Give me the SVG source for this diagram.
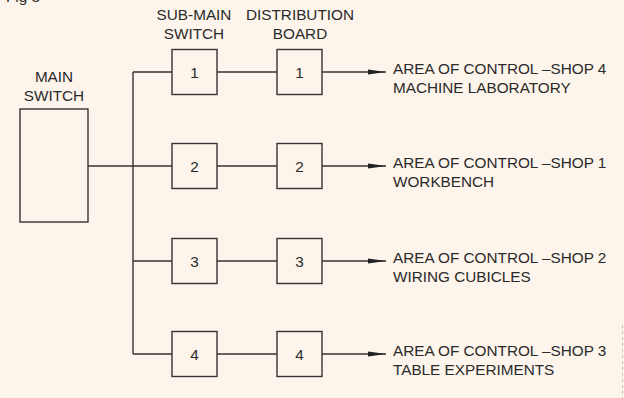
<svg xmlns="http://www.w3.org/2000/svg" width="624" height="398" viewBox="0 0 624 398">
<style>
.bg{fill:#fdf5eb}
.box{fill:none;stroke:#333;stroke-width:1.4}
.ln{fill:none;stroke:#333;stroke-width:1.4}
.t{font-family:"Liberation Sans",Arial,sans-serif;font-size:15.3px;fill:#2a2a2a}
.c{text-anchor:middle}
</style>
<defs>
<marker id="ah" markerUnits="userSpaceOnUse" markerWidth="18" markerHeight="6" refX="18" refY="3" orient="auto">
<path d="M0,0.6 L18,3 L0,5.4 Z" fill="#222"/>
</marker>
</defs>
<rect class="bg" x="0" y="0" width="624" height="398"/>
<text class="t" x="6" y="1.5">Fig 3</text>
<g id="connectors">
<path class="ln" d="M88,166 H172"/>
<path class="ln" d="M133,72 V354"/>
<path class="ln" d="M133,72 H172 M133,261 H172 M133,354 H172"/>
<path class="ln" d="M217,72 H277 M217,166 H277 M217,261 H277 M217,354 H277"/>
<path class="ln" d="M322,72 H386" marker-end="url(#ah)"/>
<path class="ln" d="M322,166 H386" marker-end="url(#ah)"/>
<path class="ln" d="M322,261 H386" marker-end="url(#ah)"/>
<path class="ln" d="M322,354 H386" marker-end="url(#ah)"/>
</g>
<g id="main-switch">
<rect class="box" x="20" y="109" width="68" height="113"/>
<text class="t c" x="54" y="82">MAIN</text>
<text class="t c" x="54" y="101">SWITCH</text>
</g>
<g id="sub-main-header">
<text class="t c" x="194" y="19.5">SUB-MAIN</text>
<text class="t c" x="194" y="38.5">SWITCH</text>
</g>
<g id="distribution-header">
<text class="t c" x="300" y="19.5">DISTRIBUTION</text>
<text class="t c" x="300" y="38.5">BOARD</text>
</g>
<g id="sub1"><rect class="box" x="172" y="49.5" width="45" height="45"/><text class="t c" x="194.5" y="77.5">1</text></g>
<g id="sub2"><rect class="box" x="172" y="143.5" width="45" height="45"/><text class="t c" x="194.5" y="171.5">2</text></g>
<g id="sub3"><rect class="box" x="172" y="238.5" width="45" height="45"/><text class="t c" x="194.5" y="266.5">3</text></g>
<g id="sub4"><rect class="box" x="172" y="331.5" width="45" height="45"/><text class="t c" x="194.5" y="359.5">4</text></g>
<g id="db1"><rect class="box" x="277" y="49.5" width="45" height="45"/><text class="t c" x="299.5" y="77.5">1</text></g>
<g id="db2"><rect class="box" x="277" y="143.5" width="45" height="45"/><text class="t c" x="299.5" y="171.5">2</text></g>
<g id="db3"><rect class="box" x="277" y="238.5" width="45" height="45"/><text class="t c" x="299.5" y="266.5">3</text></g>
<g id="db4"><rect class="box" x="277" y="331.5" width="45" height="45"/><text class="t c" x="299.5" y="359.5">4</text></g>
<g id="area1"><text class="t" x="393" y="74">AREA OF CONTROL –SHOP 4</text><text class="t" x="393" y="93">MACHINE LABORATORY</text></g>
<g id="area2"><text class="t" x="393" y="168">AREA OF CONTROL –SHOP 1</text><text class="t" x="393" y="187">WORKBENCH</text></g>
<g id="area3"><text class="t" x="393" y="263">AREA OF CONTROL –SHOP 2</text><text class="t" x="393" y="282">WIRING CUBICLES</text></g>
<g id="area4"><text class="t" x="393" y="355.5">AREA OF CONTROL –SHOP 3</text><text class="t" x="393" y="374.5">TABLE EXPERIMENTS</text></g>
<path d="M622.5,325 V398" stroke="#c8c2b8" stroke-width="1" stroke-dasharray="3,3" fill="none"/>
</svg>
